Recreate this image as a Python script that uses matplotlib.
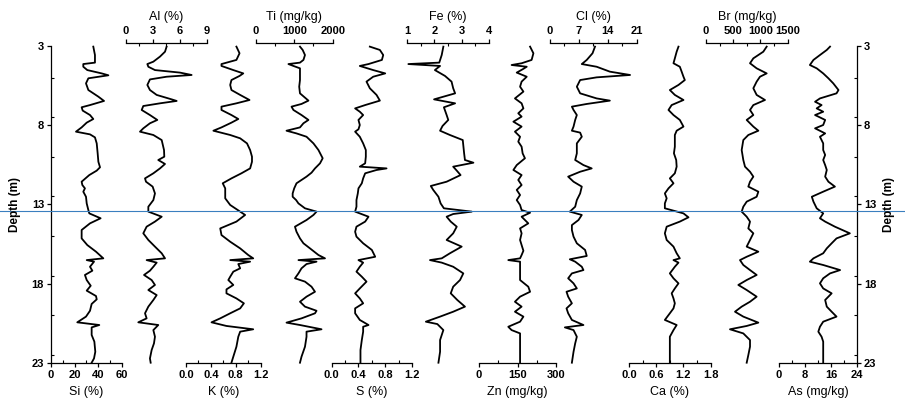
import numpy as np
import matplotlib.pyplot as plt
import matplotlib.transforms as mtransforms
from matplotlib.lines import Line2D
from matplotlib.ticker import MultipleLocator, FormatStrFormatter

plt.rcParams['font.family'] = ['Liberation Sans', 'DejaVu Sans']
plt.rcParams['font.weight'] = 'bold'

# ---- data (depth in m) ----
si_depth = [3.04, 3.57, 4.05, 4.14, 4.31, 4.52, 4.73, 4.85, 5.04, 5.36, 5.78, 6.20, 6.47, 6.73, 6.87, 7.08, 7.36,
            7.61, 7.84, 8.14, 8.41, 8.58, 8.77, 9.15, 9.78, 10.31, 10.66, 10.87, 11.15, 11.57, 11.78, 11.99, 12.20,
            12.52, 12.94, 13.36, 13.57, 13.88, 14.20, 14.62, 15.15, 15.57, 15.99, 16.41, 16.52, 16.62, 16.94, 17.19,
            17.46, 17.78, 18.14, 18.45, 18.79, 19.00, 19.29, 19.72, 20.09, 20.45, 20.62, 20.77, 21.25, 21.67, 22.31,
            22.73, 23.0]
si = [35.9, 37.3, 37.3, 27.4, 27.4, 30.8, 43.0, 48.7, 31.7, 29.7, 31.7, 40.2, 45.0, 33.1, 26.0, 26.9, 33.1,
      35.9, 30.3, 26.0, 21.2, 33.1, 37.3, 38.8, 39.6, 40.2, 41.6, 38.8, 32.5, 26.0, 26.6, 28.8, 27.4, 29.7, 30.3,
      31.7, 32.5, 42.1, 33.1, 26.0, 26.0, 30.8, 38.2, 44.4, 30.3, 36.5, 33.1, 35.1, 28.8, 30.3, 33.7, 30.3, 38.2,
      38.8, 34.5, 33.1, 29.7, 22.3, 41.0, 34.5, 34.5, 36.8, 37.6, 36.5, 34.5]

al_depth = [3.04, 3.36, 3.67, 3.99, 4.14, 4.31, 4.52, 4.68, 4.83, 4.94, 5.11, 5.46, 5.78, 6.09, 6.37, 6.47, 6.62,
            6.79, 7.04, 7.36, 7.67, 7.88, 8.20, 8.41, 8.62, 8.94, 9.57, 9.99, 10.20, 10.45, 10.73, 11.04, 11.36,
            11.57, 11.88, 12.31, 12.73, 13.15, 13.46, 13.78, 14.09, 14.41, 14.83, 15.25, 15.67, 16.09, 16.41, 16.52,
            16.68, 16.94, 17.19, 17.46, 17.78, 18.09, 18.41, 18.73, 19.04, 19.46, 19.88, 20.20, 20.45, 20.62, 20.94,
            21.36, 21.78, 22.20, 22.73, 23.0]
al = [4.53, 4.35, 3.79, 3.05, 2.38, 2.49, 3.23, 6.02, 7.32, 4.53, 2.67, 2.38, 2.67, 3.42, 5.09, 5.65, 3.79, 1.93,
      1.75, 2.67, 3.49, 2.67, 1.93, 1.56, 3.05, 3.98, 4.24, 4.27, 3.60, 4.35, 3.79, 3.05, 2.12, 2.23, 2.97, 3.23,
      3.05, 2.49, 2.49, 3.98, 3.23, 2.30, 1.93, 2.49, 3.23, 3.98, 4.35, 2.30, 3.42, 3.05, 2.67, 2.01, 2.86, 3.23,
      2.49, 3.42, 3.05, 2.49, 2.12, 2.30, 1.37, 3.60, 3.05, 3.23, 3.12, 2.86, 2.67, 2.75]

k_depth = [3.04, 3.46, 3.88, 4.14, 4.26, 4.52, 4.73, 4.89, 5.15, 5.46, 5.78, 6.09, 6.41, 6.62, 6.83, 7.04, 7.36,
           7.61, 7.84, 8.14, 8.35, 8.62, 8.83, 9.15, 9.57, 9.99, 10.31, 10.73, 11.04, 11.36, 11.67, 11.99, 12.31,
           12.62, 13.04, 13.46, 13.67, 14.09, 14.52, 14.94, 15.36, 15.78, 16.20, 16.41, 16.52, 16.62, 16.77, 17.04,
           17.25, 17.57, 17.78, 18.09, 18.37, 18.62, 18.94, 19.25, 19.57, 19.88, 20.20, 20.45, 20.68, 20.89, 21.04,
           21.36, 21.99, 22.62, 23.0]
k = [0.81, 0.86, 0.81, 0.57, 0.57, 0.76, 0.92, 0.86, 0.73, 0.71, 0.73, 0.87, 1.02, 0.81, 0.57, 0.57, 0.73, 0.84,
     0.73, 0.57, 0.44, 0.71, 0.87, 0.98, 1.03, 1.06, 1.06, 1.03, 0.89, 0.73, 0.59, 0.63, 0.63, 0.63, 0.71, 0.87,
     0.95, 0.81, 0.55, 0.57, 0.71, 0.87, 1.00, 1.08, 0.71, 1.03, 0.84, 0.87, 0.76, 0.71, 0.68, 0.76, 0.65, 0.65,
     0.81, 0.93, 0.87, 0.71, 0.55, 0.41, 0.65, 1.08, 0.87, 0.84, 0.81, 0.76, 0.73]

ti_depth = [3.04, 3.25, 3.57, 3.88, 4.05, 4.14, 4.26, 4.41, 4.73, 5.15, 5.57, 5.99, 6.45, 6.66, 6.83, 7.04, 7.36,
            7.67, 7.88, 8.14, 8.35, 8.52, 8.73, 9.15, 9.57, 10.09, 10.41, 10.73, 11.00, 11.25, 11.46, 11.67, 11.99,
            12.31, 12.52, 12.73, 12.94, 13.25, 13.46, 13.67, 13.99, 14.41, 14.73, 15.15, 15.46, 15.78, 16.20, 16.41,
            16.52, 16.62, 16.77, 17.04, 17.36, 17.67, 17.88, 18.20, 18.52, 18.83, 19.15, 19.46, 19.72, 19.88, 20.20,
            20.47, 20.62, 20.89, 21.04, 21.36, 21.99, 22.62, 23.0]
ti = [1150, 1220, 1280, 1240, 1150, 850, 980, 1150, 1150, 1150, 1130, 1150, 1370, 1190, 930, 980, 1190, 1370, 1240,
      1150, 800, 1060, 1320, 1500, 1630, 1740, 1670, 1540, 1450, 1320, 1190, 1060, 1000, 960, 960, 1050, 1110, 1280,
      1580, 1500, 1320, 1020, 1060, 1150, 1240, 1410, 1630, 1800, 1110, 1580, 1320, 1190, 1110, 1020, 1280, 1450,
      1540, 1320, 1150, 1280, 1580, 1540, 1190, 800, 1150, 1710, 1320, 1320, 1280, 1190, 1150]

s_depth = [3.04, 3.25, 3.57, 3.88, 4.14, 4.26, 4.52, 4.73, 4.94, 5.25, 5.67, 6.09, 6.45, 6.73, 6.94, 7.15, 7.36,
           7.67, 7.99, 8.26, 8.41, 8.73, 9.15, 9.57, 9.99, 10.41, 10.62, 10.73, 10.83, 11.04, 11.36, 11.67, 11.99,
           12.31, 12.73, 13.15, 13.46, 13.78, 14.09, 14.41, 14.73, 15.04, 15.46, 15.88, 16.31, 16.52, 16.68, 16.94,
           17.25, 17.57, 17.88, 18.31, 18.62, 18.94, 19.25, 19.57, 19.88, 20.30, 20.62, 20.73, 21.04, 21.57, 22.20,
           23.0]
s = [0.57, 0.72, 0.77, 0.75, 0.55, 0.42, 0.62, 0.80, 0.62, 0.52, 0.57, 0.67, 0.72, 0.50, 0.35, 0.42, 0.47, 0.40,
     0.42, 0.40, 0.35, 0.42, 0.47, 0.51, 0.51, 0.50, 0.42, 0.82, 0.67, 0.50, 0.47, 0.45, 0.40, 0.39, 0.37, 0.37,
     0.35, 0.55, 0.50, 0.37, 0.35, 0.37, 0.47, 0.60, 0.65, 0.40, 0.47, 0.42, 0.37, 0.45, 0.52, 0.42, 0.35, 0.42,
     0.47, 0.35, 0.35, 0.42, 0.55, 0.47, 0.47, 0.45, 0.43, 0.43]

fe_depth = [3.04, 3.57, 4.05, 4.14, 4.26, 4.52, 4.89, 5.25, 5.67, 5.99, 6.37, 6.62, 6.87, 7.36, 7.67, 8.05, 8.35,
            8.62, 8.94, 9.78, 10.20, 10.37, 10.62, 10.87, 11.15, 11.57, 11.84, 12.09, 12.52, 12.94, 13.25, 13.46,
            13.61, 13.78, 14.09, 14.41, 14.83, 15.25, 15.67, 16.09, 16.41, 16.52, 16.68, 16.94, 17.36, 17.78, 18.20,
            18.62, 19.04, 19.46, 19.78, 20.09, 20.41, 20.56, 20.94, 21.57, 22.31, 23.0]
fe = [2.33, 2.27, 2.18, 1.05, 2.21, 2.02, 2.39, 2.63, 2.69, 2.76, 1.99, 2.76, 2.35, 2.45, 2.51, 2.30, 2.21, 2.57,
      3.04, 3.09, 3.12, 3.43, 2.69, 2.82, 2.96, 2.45, 1.87, 1.96, 2.15, 2.23, 2.35, 3.37, 2.69, 2.45, 2.60, 2.82,
      2.69, 2.45, 3.00, 2.57, 2.27, 1.84, 2.27, 2.69, 3.06, 2.94, 2.69, 2.60, 2.84, 3.12, 2.69, 2.21, 1.69, 2.11,
      2.33, 2.21, 2.21, 2.15]

zn_depth = [3.04, 3.46, 3.88, 4.09, 4.20, 4.31, 4.47, 4.68, 4.94, 5.25, 5.57, 5.88, 6.31, 6.62, 6.94, 7.25, 7.46,
            7.78, 8.09, 8.41, 8.73, 9.04, 9.36, 9.78, 10.09, 10.52, 10.83, 11.15, 11.46, 11.78, 12.09, 12.41, 12.73,
            13.04, 13.36, 13.53, 13.78, 14.20, 14.52, 14.83, 15.25, 15.57, 15.93, 16.20, 16.41, 16.52, 16.62, 16.94,
            17.36, 17.78, 18.20, 18.52, 18.83, 19.15, 19.46, 19.78, 20.09, 20.41, 20.73, 20.94, 21.15, 21.57, 21.99,
            23.0]
zn = [199, 212, 205, 166, 127, 186, 170, 147, 186, 166, 160, 173, 140, 166, 173, 153, 166, 134, 166, 140, 160, 153,
      166, 170, 179, 147, 134, 166, 153, 166, 147, 160, 147, 160, 166, 199, 166, 192, 160, 166, 160, 166, 173, 166,
      160, 114, 160, 160, 160, 160, 192, 199, 160, 140, 166, 140, 173, 160, 114, 127, 160, 160, 160, 160]

cl_depth = [3.04, 3.46, 3.88, 4.14, 4.31, 4.62, 4.83, 4.98, 5.15, 5.57, 5.99, 6.31, 6.45, 6.66, 6.83, 7.04, 7.36,
            7.67, 8.09, 8.35, 8.47, 8.73, 9.15, 9.78, 10.20, 10.52, 10.73, 10.94, 11.25, 11.57, 11.88, 12.31, 12.73,
            13.15, 13.46, 13.67, 13.99, 14.31, 14.62, 15.04, 15.46, 15.88, 16.26, 16.47, 16.62, 16.94, 17.15, 17.36,
            17.67, 17.99, 18.31, 18.52, 18.83, 19.25, 19.57, 19.88, 20.30, 20.62, 20.77, 20.94, 21.36, 21.78, 22.31,
            23.0]
cl = [10.9, 10.3, 8.9, 7.7, 11.3, 14.5, 19.4, 11.3, 7.3, 6.5, 7.3, 11.3, 14.5, 8.9, 5.3, 5.7, 6.5, 6.1, 5.7, 5.3,
      7.3, 7.7, 6.5, 6.5, 6.1, 8.1, 10.1, 7.3, 4.4, 5.7, 7.7, 7.3, 6.5, 6.1, 4.8, 7.7, 6.9, 5.3, 5.3, 5.7, 6.5, 8.5,
      8.9, 4.8, 6.1, 7.7, 8.1, 5.3, 4.4, 5.7, 6.5, 4.0, 4.4, 5.3, 4.0, 4.4, 5.3, 8.1, 3.6, 5.7, 6.5, 6.1, 5.7, 5.3]

ca_depth = [3.04, 3.36, 3.78, 4.09, 4.31, 4.62, 4.94, 5.15, 5.46, 5.78, 6.09, 6.41, 6.73, 7.04, 7.36, 7.67, 8.09,
            8.35, 8.62, 8.94, 9.36, 9.78, 10.20, 10.62, 11.04, 11.36, 11.67, 11.99, 12.31, 12.62, 12.94, 13.25,
            13.57, 13.82, 14.09, 14.41, 14.83, 15.25, 15.67, 16.09, 16.41, 16.52, 16.68, 16.94, 17.36, 17.67, 17.99,
            18.31, 18.62, 18.94, 19.25, 19.57, 19.88, 20.30, 20.62, 20.94, 21.36, 21.99, 23.0]
ca = [1.09, 1.05, 1.01, 0.98, 1.12, 1.16, 1.20, 1.23, 1.09, 0.90, 1.01, 1.20, 0.94, 0.87, 0.98, 1.12, 1.20, 1.05,
      1.01, 1.01, 1.01, 0.99, 1.04, 1.05, 1.01, 0.90, 0.98, 0.87, 0.79, 0.83, 0.79, 0.79, 1.20, 1.31, 1.12, 0.83,
      0.79, 0.83, 0.98, 1.05, 1.12, 0.98, 1.09, 1.01, 0.90, 0.98, 1.09, 1.01, 0.94, 0.98, 1.01, 0.98, 0.90, 0.79,
      1.05, 0.98, 0.90, 0.90, 0.90]

br_depth = [3.04, 3.36, 3.78, 4.09, 4.41, 4.73, 4.94, 5.25, 5.67, 6.09, 6.41, 6.73, 7.04, 7.36, 7.67, 8.09, 8.35,
            8.62, 8.94, 9.57, 10.20, 10.62, 10.94, 11.25, 11.57, 11.88, 12.20, 12.52, 12.83, 13.15, 13.46, 13.78,
            14.09, 14.52, 14.83, 15.25, 15.67, 15.99, 16.31, 16.52, 16.83, 17.15, 17.46, 17.78, 18.09, 18.41, 18.83,
            19.15, 19.46, 19.78, 20.09, 20.47, 20.68, 20.89, 21.15, 21.57, 21.99, 22.52, 23.0]
br = [1114, 1052, 869, 808, 930, 1114, 991, 930, 869, 930, 1083, 869, 808, 869, 747, 869, 961, 777, 685, 655, 685,
      716, 808, 869, 808, 777, 961, 930, 747, 685, 655, 747, 808, 777, 869, 808, 747, 961, 747, 624, 685, 808, 930,
      747, 594, 747, 930, 808, 655, 532, 685, 961, 747, 440, 685, 808, 808, 777, 747]

as_depth = [3.04, 3.25, 3.57, 3.88, 4.20, 4.41, 4.73, 5.04, 5.36, 5.78, 5.99, 6.31, 6.52, 6.73, 6.94, 7.15, 7.36,
            7.67, 7.99, 8.20, 8.52, 8.73, 9.15, 9.57, 9.88, 10.20, 10.52, 10.83, 11.25, 11.57, 11.88, 12.20, 12.52,
            12.83, 13.25, 13.57, 13.88, 14.09, 14.41, 14.83, 15.15, 15.46, 15.78, 16.09, 16.41, 16.62, 16.83, 17.15,
            17.36, 17.67, 17.99, 18.31, 18.62, 19.04, 19.46, 19.78, 20.09, 20.41, 20.73, 21.04, 21.36, 21.67, 22.20,
            23.0]
as_ = [15.7, 14.7, 12.6, 10.6, 9.5, 11.6, 13.6, 15.2, 16.7, 18.3, 17.7, 12.6, 11.1, 13.1, 11.6, 13.6, 11.1, 14.2,
       13.6, 11.1, 14.2, 12.6, 13.6, 13.6, 14.2, 13.6, 14.2, 14.7, 14.2, 15.2, 17.2, 13.6, 10.1, 10.6, 11.6, 13.6,
       12.6, 14.2, 17.2, 21.8, 17.7, 16.2, 14.7, 13.6, 10.6, 9.5, 13.6, 18.8, 15.7, 13.6, 12.6, 13.6, 16.2, 14.2,
       14.7, 16.2, 17.7, 13.6, 12.6, 12.1, 13.1, 13.6, 13.6, 13.6]

marker_depth = 13.42

depth_ticks = [3, 8, 13, 18, 23]

# label, depth, values, xlim, major ticks, minor step, tick format, side
panels = [
    ('Si (%)', si_depth, si, (0, 60), [0, 20, 40, 60], 10, '%d', 'bottom'),
    ('Al (%)', al_depth, al, (0, 9), [0, 3, 6, 9], 1.5, '%d', 'top'),
    ('K (%)', k_depth, k, (0, 1.2), [0.0, 0.4, 0.8, 1.2], 0.2, '%.1f', 'bottom'),
    ('Ti (mg/kg)', ti_depth, ti, (0, 2000), [0, 1000, 2000], 500, '%d', 'top'),
    ('S (%)', s_depth, s, (0, 1.2), [0.0, 0.4, 0.8, 1.2], 0.2, '%.1f', 'bottom'),
    ('Fe (%)', fe_depth, fe, (1, 4), [1, 2, 3, 4], 0.5, '%d', 'top'),
    ('Zn (mg/kg)', zn_depth, zn, (0, 300), [0, 150, 300], 75, '%d', 'bottom'),
    ('Cl (%)', cl_depth, cl, (0, 21), [0, 7, 14, 21], 3.5, '%d', 'top'),
    ('Ca (%)', ca_depth, ca, (0, 1.8), [0.0, 0.6, 1.2, 1.8], 0.3, '%.1f', 'bottom'),
    ('Br (mg/kg)', br_depth, br, (0, 1500), [0, 500, 1000, 1500], 250, '%d', 'top'),
    ('As (mg/kg)', as_depth, as_, (0, 24), [0, 8, 16, 24], 4, '%d', 'bottom'),
]

# horizontal extent of each panel's value axis, in pixels
panel_px = [(51, 121.7), (126, 206.7), (186, 260.7), (255.7, 332.7), (331.7, 412), (407, 489),
            (479, 556), (550, 636.7), (629, 710.7), (706, 787.7), (779, 857)]

W, H = 905, 404
TOP, BOT = 46.0, 362.7

fig = plt.figure(figsize=(W / 100, H / 100), dpi=100)


def px_axes(x0, x1):
    return fig.add_axes([x0 / W, 1 - BOT / H, (x1 - x0) / W, (BOT - TOP) / H])


# depth frame
ax0 = px_axes(51, 857)
ax0.set_ylim(23, 3)
ax0.set_xticks([])
ax0.spines['top'].set_visible(False)
ax0.spines['bottom'].set_visible(False)
for sp in ('left', 'right'):
    ax0.spines[sp].set_linewidth(0.9)
ax0.set_yticks(depth_ticks)
ax0.yaxis.set_minor_locator(MultipleLocator(2.5))
ax0.tick_params(axis='y', which='major', left=True, right=True, labelleft=True, labelright=True,
                direction='out', length=3, width=0.9, labelsize=8, pad=2)
ax0.tick_params(axis='y', which='minor', left=True, right=True, direction='in', length=2, width=0.8)
ax0.patch.set_visible(False)
fig.text(15 / W, 1 - 205 / H, 'Depth (m)', rotation=90, ha='center', va='center', fontsize=8.5)
fig.text(889 / W, 1 - 205 / H, 'Depth (m)', rotation=90, ha='center', va='center', fontsize=8.5)

for (label, d, v, xlim, major, minor, fmt, side), (x0, x1) in zip(panels, panel_px):
    ax = px_axes(x0, x1)
    ax.patch.set_visible(False)
    ax.plot(v, d, color='black', lw=1.3, clip_on=False)
    ax.set_xlim(*xlim)
    ax.set_ylim(23, 3)
    ax.set_yticks([])
    other = 'top' if side == 'bottom' else 'bottom'
    for sp in ('left', 'right', other):
        ax.spines[sp].set_visible(False)
    ax.spines[side].set_linewidth(0.9)
    if side == 'top':
        ax.spines['top'].set_position(('outward', 2))
    ax.xaxis.set_ticks_position(side)
    ax.xaxis.set_label_position(side)
    ax.set_xticks(major)
    ax.xaxis.set_minor_locator(MultipleLocator(minor))
    ax.xaxis.set_major_formatter(FormatStrFormatter(fmt))
    ax.tick_params(axis='x', which='major', direction='out', length=3, width=0.9, labelsize=8, pad=2.2)
    ax.tick_params(axis='x', which='minor', direction='in', length=2, width=0.8)
    ax.set_xlabel(label, fontsize=9, labelpad=4.5)

# marker line across the whole figure
trans = mtransforms.blended_transform_factory(fig.transFigure, ax0.transData)
fig.add_artist(Line2D([0, 1], [marker_depth, marker_depth], transform=trans, color='#3a7fbf', lw=0.8))

fig.savefig('out.png', dpi=100)
